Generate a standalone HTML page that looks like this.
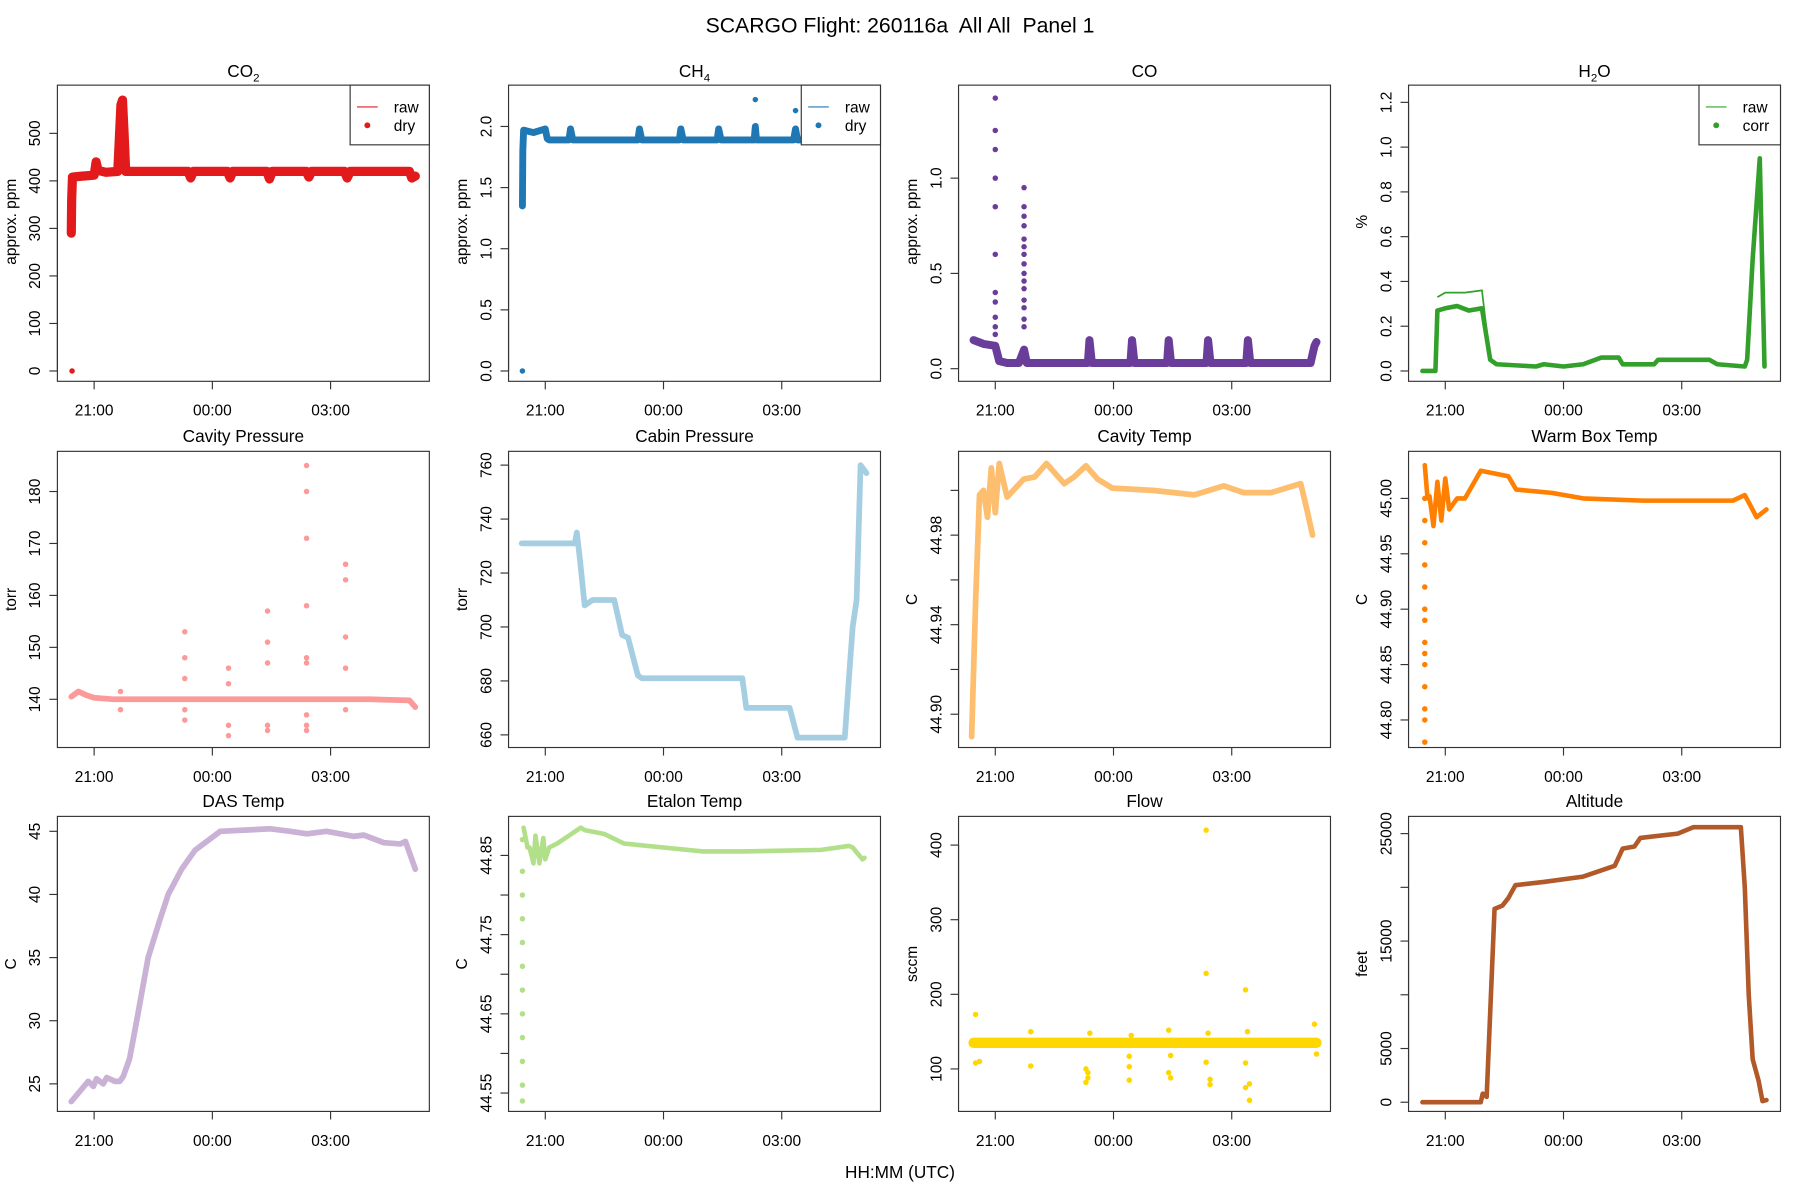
<!DOCTYPE html>
<html><head><meta charset="utf-8"><style>
html,body{margin:0;padding:0;background:#fff}
svg{display:block}
text{font-family:"Liberation Sans",sans-serif;fill:#000;white-space:pre}
</style></head><body>
<svg id="chart" width="1800" height="1200" viewBox="0 0 1568 1045" xmlns="http://www.w3.org/2000/svg">
<rect width="1568" height="1045" fill="#fff"/>
<text x="784" y="28" font-size="18.5" text-anchor="middle" xml:space="preserve">SCARGO Flight: 260116a  All All  Panel 1</text>
<text x="784" y="1026" font-size="15" text-anchor="middle">HH:MM (UTC)</text>
<g id="plots"></g>
</svg>
<script>
// ===== data (time in hours relative to 21:00 UTC) =====
const xTickLabels=["21:00","00:00","03:00"];
const xTickHours=[0,3,6];

const co2T=[-0.58,-0.57,-0.55,-0.3,0.0,0.05,0.1,0.3,0.6,0.68,0.72,0.76,0.8,1.0,2.38,2.45,2.52,3.38,3.45,3.52,4.38,4.45,4.52,5.38,5.45,5.52,6.35,6.42,6.5,8.0,8.06,8.15];
const co2V=[290,360,408,410,412,440,422,418,420,560,570,500,420,420,420,406,420,420,406,420,420,404,420,420,408,420,420,406,420,420,406,410];
const co2PT=[-0.56,-0.56];
const co2PV=[0,360];

const ch4T=[-0.58,-0.57,-0.55,-0.3,0.0,0.05,0.1,0.6,0.64,0.7,2.35,2.39,2.45,3.4,3.44,3.5,4.36,4.4,4.46,5.3,5.33,5.36,6.3,6.35,6.4,8.15];
const ch4V=[1.35,1.8,1.97,1.95,1.98,1.9,1.89,1.89,1.98,1.89,1.89,1.98,1.89,1.89,1.98,1.89,1.89,1.98,1.89,1.89,2.0,1.89,1.89,1.98,1.89,1.89];
const ch4PT=[-0.58,-0.58,5.33,6.35];
const ch4PV=[0.0,1.8,2.22,2.13];

const coT=[-0.55,-0.3,0.0,0.1,0.3,0.6,0.73,0.8,1.2,2.35,2.39,2.45,3.43,3.47,3.53,4.36,4.4,4.46,5.36,5.4,5.46,6.37,6.41,6.47,8.0,8.1,8.15];
const coV=[0.15,0.13,0.12,0.04,0.03,0.03,0.1,0.03,0.03,0.03,0.15,0.03,0.03,0.15,0.03,0.03,0.15,0.03,0.03,0.15,0.03,0.03,0.15,0.03,0.03,0.12,0.14];
const coPT=[0.0,0.0,0.0,0.0,0.0,0.0,0.0,0.0,0.0,0.0,0.0,0.73,0.73,0.73,0.73,0.73,0.73,0.73,0.73,0.73,0.73,0.73,0.73,0.73,0.73,0.73];
const coPV=[1.42,1.25,1.15,1.0,0.85,0.6,0.4,0.35,0.27,0.22,0.18,0.95,0.85,0.8,0.75,0.68,0.64,0.6,0.55,0.5,0.46,0.42,0.36,0.32,0.26,0.22];

const h2oT=[-0.58,-0.25,-0.2,0.0,0.3,0.6,0.93,1.14,1.3,2.3,2.5,3.0,3.5,3.96,4.4,4.5,5.3,5.4,6.7,6.9,7.6,7.66,7.8,7.98,8.05,8.1];
const h2oV=[0.0,0.0,0.27,0.28,0.29,0.27,0.28,0.05,0.03,0.02,0.03,0.02,0.03,0.06,0.06,0.03,0.03,0.05,0.05,0.03,0.02,0.05,0.5,0.95,0.4,0.02];
const h2oRawT=[-0.2,0.0,0.5,0.93,1.14];
const h2oRawV=[0.33,0.35,0.35,0.36,0.05];

const cavPT=[-0.58,-0.4,-0.2,0.0,0.5,1.0,3.0,5.0,7.0,8.0,8.15];
const cavPV=[140.5,141.5,140.8,140.3,140,140,140,140,140,139.8,138.5];
const cavPPT=[0.67,0.67,2.3,2.3,2.3,2.3,2.3,3.41,3.41,3.41,3.41,4.4,4.4,4.4,4.4,4.4,5.39,5.39,5.39,5.39,5.39,5.39,5.39,5.39,5.39,6.38,6.38,6.38,6.38,6.38];
const cavPPV=[141.5,138,153,148,144,138,136,146,143,135,133,157,151,147,135,134,185,180,171,158,148,147,137,135,134,166,163,152,146,138];

const cabT=[-0.6,0.75,0.8,0.88,0.95,1.0,1.2,1.75,1.95,2.1,2.35,2.45,5.0,5.1,6.2,6.4,7.6,7.7,7.8,7.9,8.0,8.15];
const cabV=[731,731,735,725,715,708,710,710,697,696,682,681,681,670,670,659,659,680,700,710,760,757];

const cavTT=[-0.6,-0.5,-0.4,-0.3,-0.2,-0.1,0.0,0.1,0.3,0.72,1.0,1.3,1.5,1.75,2.0,2.3,2.6,2.97,4.0,5.05,5.8,6.3,7.0,7.75,7.9,8.05];
const cavTV=[44.89,44.95,44.998,45.0,44.988,45.01,44.99,45.012,44.997,45.005,45.006,45.012,45.008,45.003,45.006,45.011,45.005,45.001,45.0,44.998,45.002,44.999,44.999,45.003,44.992,44.98];

const wbT=[-0.52,-0.45,-0.4,-0.3,-0.2,-0.1,0.0,0.1,0.3,0.5,0.9,1.6,1.8,2.7,3.5,5.0,7.3,7.6,7.9,8.15];
const wbV=[45.03,45.0,45.002,44.975,45.015,44.98,45.018,44.99,45.0,45.0,45.025,45.02,45.008,45.005,45.0,44.998,44.998,45.003,44.983,44.99];
const wbPT=[-0.52,-0.52,-0.52,-0.52,-0.52,-0.52,-0.52,-0.52,-0.52,-0.52,-0.52,-0.52,-0.52,-0.52];
const wbPV=[44.78,44.8,44.81,44.83,44.85,44.86,44.87,44.89,44.9,44.92,44.94,44.96,44.98,45.0];

const dasT=[-0.58,-0.15,-0.02,0.06,0.23,0.32,0.53,0.65,0.74,0.9,1.08,1.37,1.67,1.88,2.22,2.56,2.9,3.2,3.87,4.47,4.97,5.4,5.9,6.58,6.84,7.35,7.77,7.9,8.15];
const dasV=[23.6,25.2,24.8,25.4,25.0,25.5,25.2,25.2,25.6,27,30,35,38,40,42,43.5,44.3,45,45.1,45.2,45.0,44.8,45.0,44.6,44.7,44.1,44.0,44.2,42];

const etT=[-0.55,-0.45,-0.4,-0.3,-0.25,-0.15,-0.05,0.0,0.1,0.3,0.6,0.9,1.0,1.5,2.0,3.0,4.0,5.0,7.0,7.7,7.8,8.05,8.1];
const etV=[44.885,44.86,44.86,44.84,44.875,44.84,44.872,44.845,44.86,44.865,44.875,44.885,44.882,44.877,44.865,44.86,44.855,44.855,44.857,44.862,44.86,44.845,44.847];
const etPT=[-0.58,-0.58,-0.58,-0.58,-0.58,-0.58,-0.58,-0.58,-0.58,-0.58,-0.58,-0.58];
const etPV=[44.54,44.56,44.59,44.62,44.65,44.68,44.71,44.74,44.77,44.8,44.83,44.87];

const flowT=[-0.55,0.5,2.0,4.0,6.0,8.15];
const flowV=[135,135,135,135,135,135];
const flowPT=[-0.5,-0.5,-0.4,0.9,0.9,2.4,2.3,2.35,2.35,2.3,3.45,3.4,3.4,3.4,4.4,4.45,4.4,4.45,5.4,5.35,5.45,5.45,5.35,5.35,6.35,6.4,6.35,6.45,6.35,6.45,8.1,8.15];
const flowPV=[173,108,110,150,104,148,100,95,88,82,145,117,103,85,152,118,95,88,148,109,86,79,420,228,206,150,108,80,75,58,160,120];

const altT=[-0.58,0.9,0.95,1.05,1.25,1.45,1.6,1.78,2.5,3.5,4.3,4.5,4.8,4.95,5.9,6.3,7.5,7.6,7.7,7.8,7.95,8.05,8.15];
const altV=[0,0,800,500,18000,18300,19000,20200,20500,21000,22000,23600,23800,24600,25000,25600,25600,20000,10000,4000,2000,100,200];

// ===== layout =====
const cols=[50,443,835,1227], W=324;
const rows=[[74,332],[393,651],[711,968]];
const PXH=34.33;
const svg=document.getElementById('plots');
const NS='http://www.w3.org/2000/svg';
function mk(tag,attrs,parent){const e=document.createElementNS(NS,tag);for(const k in attrs)e.setAttribute(k,attrs[k]);(parent||svg).appendChild(e);return e;}

function panel(o){
  const L=cols[o.c], T=rows[o.r][0], B=rows[o.r][1];
  const g=mk('g',{});
  
  
  const xs=t=>L+32+t*PXH;
  const ys=v=>o.p0+(v-o.v0)*(o.p1-o.p0)/(o.v1-o.v0);
  const cid='clip'+o.name;
  const cp=mk('clipPath',{id:cid},g); mk('rect',{x:L,y:T,width:W,height:B-T},cp);
  const dg=mk('g',{'clip-path':'url(#'+cid+')'},g);
  
  
  if(o.rawT){const p=mk('polyline',{points:o.rawT.map((t,i)=>xs(t)+','+ys(o.rawV[i])).join(' '),fill:'none',stroke:o.col,'stroke-width':1.5},dg);
    
    }
  const ln=mk('polyline',{points:o.T.map((t,i)=>xs(t)+','+ys(o.V[i])).join(' '),fill:'none',stroke:o.col,'stroke-width':o.lw||5,'stroke-linejoin':'round','stroke-linecap':'round'},dg);
  
  
  if(o.PT){o.PT.forEach((t,i)=>{const c=mk('circle',{cx:xs(t),cy:ys(o.PV[i]),r:2.4,fill:o.col},dg);
    
    });}
  const bx=mk('rect',{x:L,y:T,width:W,height:B-T,fill:'none',stroke:'#333','stroke-width':1},g);
  
  
  xTickHours.forEach((h,i)=>{const x=xs(h);
    mk('line',{x1:x,y1:B,x2:x,y2:B+7,stroke:'#333'},g);
    const tx=mk('text',{x:x,y:B+30,'font-size':13.5,'text-anchor':'middle'},g);tx.textContent=xTickLabels[i];
    
    });
  const ty0=ys(o.ticks[0]), ty1=ys(o.ticks[o.ticks.length-1]);
  mk('line',{x1:L,y1:ty0,x2:L,y2:ty1,stroke:'#333'},g);
  o.ticks.forEach((v,i)=>{const y=ys(v);
    mk('line',{x1:L-7,y1:y,x2:L,y2:y,stroke:'#333'},g);
    if(o.tl[i]!==''){const tx=mk('text',{x:L-15,y:y,'font-size':13.5,'text-anchor':'middle',transform:'rotate(-90 '+(L-15)+' '+y+')'},g);tx.textContent=o.tl[i];
      
      }});
  const ym=(T+B)/2+(o.r===0?-10:0);
  const yl=mk('text',{x:L-36,y:ym,'font-size':13.5,'text-anchor':'middle',transform:'rotate(-90 '+(L-36)+' '+ym+')'},g);yl.textContent=o.ylab;
  
  
  const tt=mk('text',{x:L+W/2,y:o.r===0?T-7:T-8,'font-size':15,'text-anchor':'middle'},g);
  
  
  if(o.sub){tt.appendChild(document.createTextNode(o.title));const s=mk('tspan',{'font-size':10,dy:4},tt);s.textContent=o.sub;
    if(o.after){const a=mk('tspan',{dy:-4},tt);a.textContent=o.after;}}
  else tt.textContent=o.title;
  if(o.leg){const lx=L+W-(o.c===3?71:69), lw=o.c===3?71:69;
    const lg=mk('g',{},g);
    
    
    mk('rect',{x:lx,y:T,width:lw,height:52,fill:'#fff',stroke:'#333'},lg);
    mk('line',{x1:lx+6,y1:T+19,x2:lx+24,y2:T+19,stroke:o.col,'stroke-width':1},lg);
    const a=mk('text',{x:lx+38,y:T+24,'font-size':13.5},lg);a.textContent=o.leg[0];
    
    
    mk('circle',{cx:lx+15,cy:T+35,r:2.6,fill:o.col},lg);
    const b=mk('text',{x:lx+38,y:T+40,'font-size':13.5},lg);b.textContent=o.leg[1];
    
    }
}

panel({name:'co2',c:0,r:0,title:'CO',sub:'2',ylab:'approx. ppm',col:'#E31A1C',T:co2T,V:co2V,PT:co2PT,PV:co2PV,lw:8,v0:0,p0:323,v1:500,p1:116,ticks:[0,100,200,300,400,500],tl:['0','100','200','300','400','500'],leg:['raw','dry']});
panel({name:'ch4',c:1,r:0,title:'CH',sub:'4',ylab:'approx. ppm',col:'#1F78B4',T:ch4T,V:ch4V,PT:ch4PT,PV:ch4PV,lw:6,v0:0,p0:323,v1:2,p1:110,ticks:[0,0.5,1,1.5,2],tl:['0.0','0.5','1.0','1.5','2.0'],leg:['raw','dry']});
panel({name:'co',c:2,r:0,title:'CO',ylab:'approx. ppm',col:'#6A3D9A',T:coT,V:coV,PT:coPT,PV:coPV,lw:7,v0:0,p0:321,v1:1,p1:155,ticks:[0,0.5,1],tl:['0.0','0.5','1.0']});
panel({name:'h2o',c:3,r:0,title:'H',sub:'2',after:'O',ylab:'%',col:'#33A02C',T:h2oT,V:h2oV,rawT:h2oRawT,rawV:h2oRawV,lw:4,v0:0,p0:323,v1:1.2,p1:89,ticks:[0,0.2,0.4,0.6,0.8,1.0,1.2],tl:['0.0','0.2','0.4','0.6','0.8','1.0','1.2'],leg:['raw','corr']});
panel({name:'cavity-pressure',c:0,r:1,title:'Cavity Pressure',ylab:'torr',col:'#FB9A99',T:cavPT,V:cavPV,PT:cavPPT,PV:cavPPV,lw:5,v0:140,p0:609,v1:180,p1:428,ticks:[140,150,160,170,180],tl:['140','150','160','170','180']});
panel({name:'cabin-pressure',c:1,r:1,title:'Cabin Pressure',ylab:'torr',col:'#A6CEE3',T:cabT,V:cabV,lw:5,v0:660,p0:640,v1:760,p1:405,ticks:[660,680,700,720,740,760],tl:['660','680','700','720','740','760']});
panel({name:'cavity-temp',c:2,r:1,title:'Cavity Temp',ylab:'C',col:'#FDBF6F',T:cavTT,V:cavTV,lw:5,v0:44.90,p0:622,v1:44.98,p1:466,ticks:[44.90,44.92,44.94,44.96,44.98,45.00],tl:['44.90','','44.94','','44.98','']});
panel({name:'warm-box-temp',c:3,r:1,title:'Warm Box Temp',ylab:'C',col:'#FF7F00',T:wbT,V:wbV,PT:wbPT,PV:wbPV,lw:4,v0:44.80,p0:627,v1:45.00,p1:434,ticks:[44.80,44.85,44.90,44.95,45.00],tl:['44.80','44.85','44.90','44.95','45.00']});
panel({name:'das-temp',c:0,r:2,title:'DAS Temp',ylab:'C',col:'#CAB2D6',T:dasT,V:dasV,lw:5,v0:25,p0:944,v1:45,p1:724,ticks:[25,30,35,40,45],tl:['25','30','35','40','45']});
panel({name:'etalon-temp',c:1,r:2,title:'Etalon Temp',ylab:'C',col:'#B2DF8A',T:etT,V:etV,PT:etPT,PV:etPV,lw:4,v0:44.55,p0:952,v1:44.85,p1:745,ticks:[44.55,44.60,44.65,44.70,44.75,44.80,44.85],tl:['44.55','','44.65','','44.75','','44.85']});
panel({name:'flow',c:2,r:2,title:'Flow',ylab:'sccm',col:'#FFD700',T:flowT,V:flowV,PT:flowPT,PV:flowPV,lw:9,v0:100,p0:931,v1:400,p1:736,ticks:[100,200,300,400],tl:['100','200','300','400']});
panel({name:'altitude',c:3,r:2,title:'Altitude',ylab:'feet',col:'#B15928',T:altT,V:altV,lw:4,v0:0,p0:960,v1:25000,p1:726,ticks:[0,5000,10000,15000,20000,25000],tl:['0','5000','','15000','','25000']});
</script>
</body></html>
